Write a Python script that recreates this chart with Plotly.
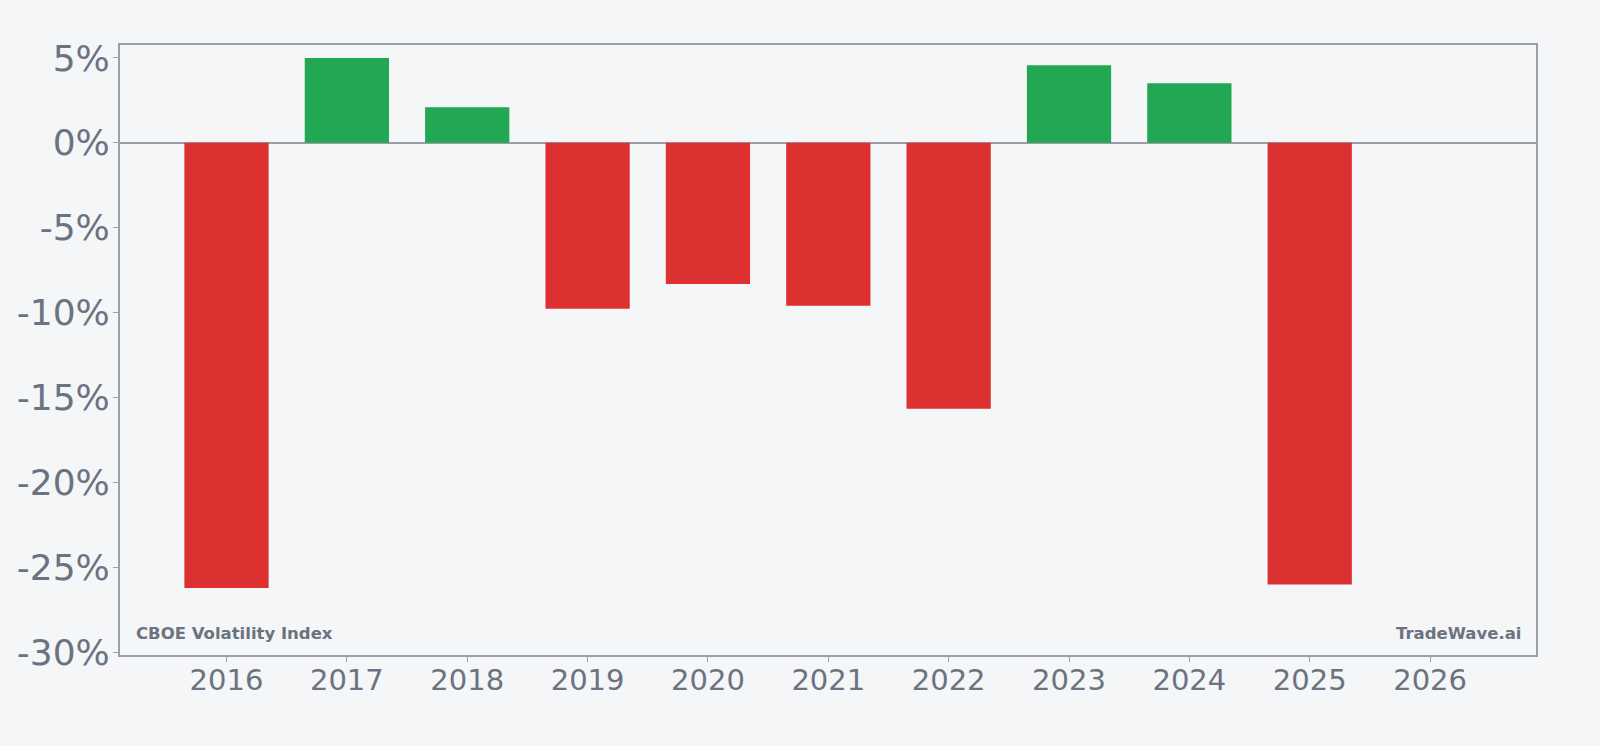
import plotly.graph_objects as go

years = [2016, 2017, 2018, 2019, 2020, 2021, 2022, 2023, 2024, 2025, 2026]
returns_pct = [-26.2, 5.0, 2.1, -9.76, -8.31, -9.59, -15.66, 4.57, 3.51, -26.0, 0.0]
y_tickvals = [5, 0, -5, -10, -15, -20, -25, -30]
y_ticktext = ["5%", "0%", "-5%", "-10%", "-15%", "-20%", "-25%", "-30%"]

RED = "#dc3031"
GREEN = "#22a753"
TEXT = "#6b7280"
AXIS = "#9b9da7"
BG = "#f4f6f8"

colors = [GREEN if v > 0 else RED for v in returns_pct]

fig = go.Figure(
    go.Bar(
        x=years,
        y=returns_pct,
        width=0.7,
        marker=dict(color=colors, line=dict(width=0)),
        hoverinfo="x+y",
    )
)

fig.update_layout(
    width=1600,
    height=746,
    paper_bgcolor=BG,
    plot_bgcolor=BG,
    margin=dict(l=120, r=64, t=45, b=91),
    showlegend=False,
    font=dict(family="DejaVu Sans", color=TEXT),
)

fig.update_xaxes(
    range=[2015.115, 2026.88],
    tickmode="array",
    tickvals=years,
    ticktext=[str(y) for y in years],
    tickfont=dict(size=29, color=TEXT),
    ticks="outside",
    ticklen=5,
    tickwidth=1,
    tickcolor=AXIS,
    ticklabelstandoff=-7,
    showline=True,
    linecolor=AXIS,
    linewidth=2,
    mirror=True,
    showgrid=False,
    zeroline=False,
)

fig.update_yaxes(
    range=[-30.15, 5.76],
    tickmode="array",
    tickvals=y_tickvals,
    ticktext=y_ticktext,
    tickfont=dict(size=36, color=TEXT),
    ticks="outside",
    ticklen=5,
    tickwidth=1,
    tickcolor=AXIS,
    ticklabelstandoff=-4,
    showline=True,
    linecolor=AXIS,
    linewidth=2,
    mirror=True,
    showgrid=False,
    zeroline=True,
    zerolinecolor=AXIS,
    zerolinewidth=2,
)

fig.add_annotation(
    text="<b>CBOE Volatility Index</b>",
    xref="paper", yref="paper",
    x=0.0099, y=0.035,
    xanchor="left", yanchor="middle",
    showarrow=False,
    font=dict(size=16.5, color=TEXT, family="DejaVu Sans"),
)
fig.add_annotation(
    text="<b>TradeWave.ai</b>",
    xref="paper", yref="paper",
    x=0.9905, y=0.035,
    xanchor="right", yanchor="middle",
    showarrow=False,
    font=dict(size=16.5, color=TEXT, family="DejaVu Sans"),
)

fig.write_html("out.html")
